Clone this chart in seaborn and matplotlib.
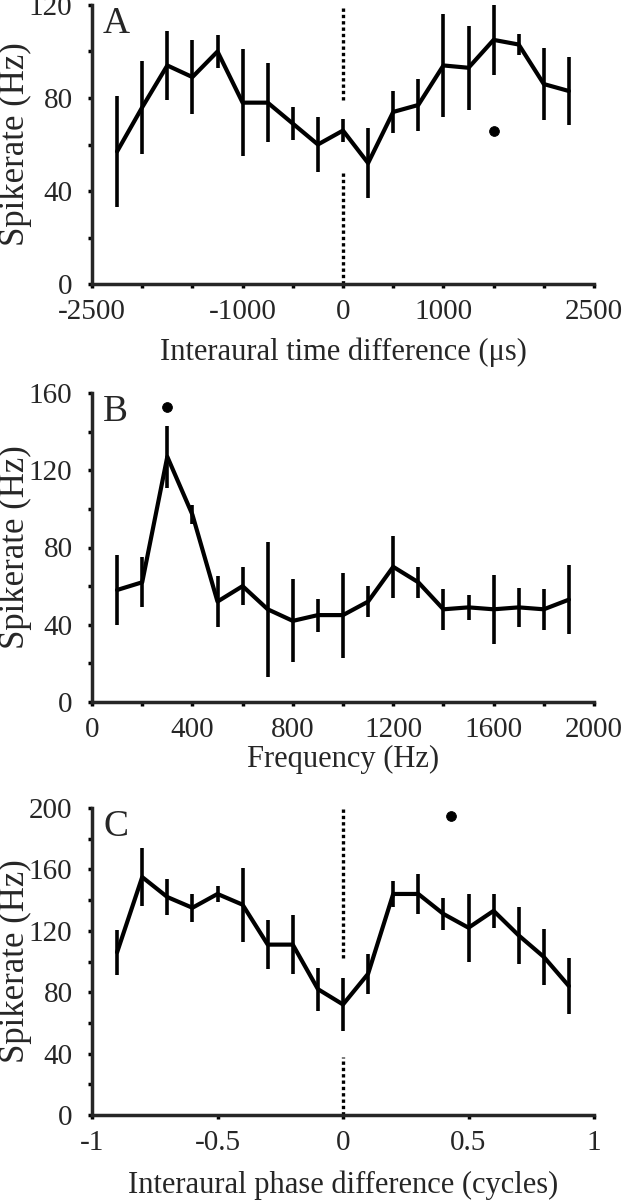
import numpy as np
import pandas as pd
import matplotlib
matplotlib.use("Agg")
import matplotlib.pyplot as plt
import seaborn as sns

# A: interaural time difference tuning
itd_us = [-2250, -2000, -1750, -1500, -1250, -1000, -750, -500, -250, 0,
          250, 500, 750, 1000, 1250, 1500, 1750, 2000, 2250]
itd_rate = [57, 76, 94, 89, 100, 78, 78, 69, 60, 66,
            52, 74, 77, 94, 93, 105, 103, 86, 83]
itd_err = [24, 20, 15, 16, 7, 23, 17, 7, 12, 5,
           15, 9, 11, 22, 18, 15, 4.5, 15.5, 14.5]
itd_dot = (1500, 66)

# B: frequency tuning
freq_hz = [100, 200, 300, 400, 500, 600, 700, 800, 900, 1000,
           1100, 1200, 1300, 1400, 1500, 1600, 1700, 1800, 1900]
freq_rate = [58, 62, 127, 97, 52, 60, 48, 42, 45, 45,
             52, 70, 62, 48, 49, 48, 49, 48, 53]
freq_err = [18, 13, 16, 5, 13, 10, 35, 21.5, 8.5, 22,
            8, 16, 8, 10.5, 6.5, 18, 10, 10.5, 18]
freq_dot = (300, 153)

# C: interaural phase difference tuning
ipd_cyc = [-0.9, -0.8, -0.7, -0.6, -0.5, -0.4, -0.3, -0.2, -0.1, 0,
           0.1, 0.2, 0.3, 0.4, 0.5, 0.6, 0.7, 0.8, 0.9]
ipd_rate = [106, 155, 142, 135, 144, 137, 111, 111, 82, 72,
            92, 144, 144, 131, 122, 133, 117, 103, 84]
ipd_err = [14.5, 19, 12, 9, 5, 24, 16, 19, 14, 17,
           13, 8.5, 13, 10.5, 22, 11, 18.5, 18, 18]
ipd_dot = (0.43, 195)

sns.set_style("ticks")
plt.rcParams['font.family'] = ['Liberation Serif', 'DejaVu Serif']

fig = plt.figure(figsize=(6.22, 12), dpi=100)
W, H = 622, 1200


def make_ax(top, bottom, left=92, right=594):
    return fig.add_axes([left / W, 1 - bottom / H, (right - left) / W, (bottom - top) / H])


def panel(ax, x, y, err, dot, letter, xlim, ylim, xticks, xlabels, yticks, ylabels,
          xlabel, xlabel_y, dotted=None):
    df = pd.DataFrame({'x': x, 'y': y})
    ax.errorbar(x, y, yerr=err, fmt='none', ecolor='black', elinewidth=2.6, capsize=0)
    sns.lineplot(data=df, x='x', y='y', ax=ax, color='black', linewidth=3.0)
    sns.scatterplot(x=[dot[0]], y=[dot[1]], ax=ax, color='black', s=50, edgecolor='black')
    if dotted:
        for y0, y1 in dotted:
            ax.plot([0, 0], [y0, y1], color='black', linewidth=2.4, linestyle=(0, (1, 0.9)))
    ax.set_xlim(*xlim)
    ax.set_ylim(*ylim)
    ax.set_xticks(xticks)
    ax.set_xticklabels(xlabels)
    ax.set_yticks(yticks)
    ax.set_yticklabels(ylabels)
    for s in ['top', 'right']:
        ax.spines[s].set_visible(False)
    for s in ['left', 'bottom']:
        ax.spines[s].set_linewidth(2.5)
        ax.spines[s].set_capstyle('projecting')
    ax.tick_params(direction='out', length=3, width=2.5, labelsize=21, color='black')
    ax.tick_params(axis='y', pad=11)
    ax.tick_params(axis='x', pad=8)
    ax.set_xlabel(xlabel, fontsize=22)
    ax.set_ylabel('Spikerate (Hz)', fontsize=25)
    ax.yaxis.set_label_coords(-0.12, 0.5)
    ax.xaxis.set_label_coords(0.5, xlabel_y)
    ax.xaxis.label.set_va('top')
    ax.text(0.022, 0.995, letter, transform=ax.transAxes, fontsize=27, va='top', ha='left')


def labels_for(ticks, shown):
    return [shown.get(t, '') for t in ticks]


# Panel A
axA = make_ax(5, 284)
xt = list(range(-2500, 2501, 500))
panel(axA, itd_us, itd_rate, itd_err, itd_dot, 'A', (-2500, 2500), (0, 120),
      xt, labels_for(xt, {-2500: '-2500', -1000: '-1000', 0: '0', 1000: '1000', 2500: '2500'}),
      list(range(0, 121, 20)), labels_for(list(range(0, 121, 20)), {0: '0', 40: '40', 80: '80', 120: '120'}),
      'Interaural time difference (μs)', -0.19, dotted=[(0, 49), (79, 119)])

# Panel B
axB = make_ax(393, 702)
xt = list(range(0, 2001, 200))
yt = list(range(0, 161, 20))
panel(axB, freq_hz, freq_rate, freq_err, freq_dot, 'B', (0, 2000), (0, 160),
      xt, labels_for(xt, {v: str(v) for v in range(0, 2001, 400)}),
      yt, labels_for(yt, {v: str(v) for v in range(0, 161, 40)}),
      'Frequency (Hz)', -0.14)

# Panel C
axC = make_ax(808, 1115)
xt = [-1, -0.5, 0, 0.5, 1]
yt = list(range(0, 201, 20))
panel(axC, ipd_cyc, ipd_rate, ipd_err, ipd_dot, 'C', (-1, 1), (0, 200),
      xt, ['-1', '-0.5', '0', '0.5', '1'],
      yt, labels_for(yt, {v: str(v) for v in range(0, 201, 40)}),
      'Interaural phase difference (cycles)', -0.18, dotted=[(0, 38), (102, 200)])

fig.savefig('out.png', dpi=100)
